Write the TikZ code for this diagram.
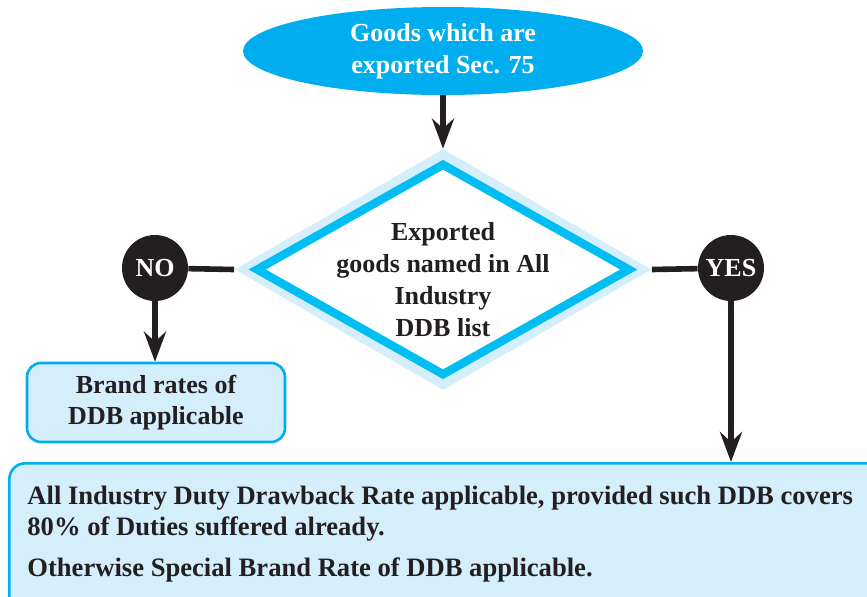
\documentclass[tikz,border=0pt]{standalone}
\usepackage{fontspec}
\setmainfont{Liberation Serif}
\usetikzlibrary{arrows.meta,positioning,shapes.geometric}
\definecolor{ddbCyan}{HTML}{00AEEF}
\definecolor{ddbAqua}{HTML}{00BEF2}
\definecolor{ddbSky}{HTML}{D5EEFB}
\definecolor{ddbInk}{HTML}{231F20}

\begin{document}
\begin{tikzpicture}[x=0.5pt,y=-0.5pt,font=\bfseries\fontsize{13}{16}\selectfont,
    flowline/.style={draw=ddbInk,line width=2.8pt},
    flowarrow/.style={flowline,-{Stealth[length=15pt,width=11pt,inset=5pt]}},
    answer/.style={circle,fill=ddbInk,text=white,minimum size=33pt,inner sep=0pt},
    skybox/.style={draw=ddbCyan,fill=ddbSky,line width=1.3pt,rounded corners=7pt,
                   text=ddbInk}]
  \useasboundingbox (0,0) rectangle (867,596);
  \clip (0,0) rectangle (867,596);

  % start
  \node[ellipse,fill=ddbCyan,text=white,align=center,inner sep=0pt,
        minimum width=200pt,minimum height=44pt] (goods) at (443,51)
        {Goods which are\\exported Sec. 75};

  % decision
  \node[diamond,fill=ddbSky,inner sep=0pt,
        minimum width=208.5pt,minimum height=120.5pt] (ddbglow) at (443,269.5) {};
  \node[diamond,draw=ddbAqua,fill=white,line width=4.2pt,inner sep=0pt,
        minimum width=187.5pt,minimum height=106.5pt] (ddb) at (ddbglow) {};
  \node[text=ddbInk,align=center] (ddbtext) at (443,280)
        {Exported\\goods named in All\\Industry\\DDB list};

  \node[answer] (no) at (155,268) {NO};
  \node[answer] (yes) at (731,268) {YES};

  % outcomes
  \node[skybox,align=center,minimum width=129pt,minimum height=39.5pt,
        font=\bfseries\fontsize{13}{15.5}\selectfont] (brand)
        at (156,402.5) {Brand rates of\\DDB applicable};
  \node[skybox,rounded corners=8pt,anchor=north west,minimum width=440pt,
        minimum height=75pt] (allind) at (8,462) {};
  \node[anchor=north west,inner sep=0pt,align=left,text=ddbInk,
        font=\bfseries\fontsize{13.3}{15.5}\selectfont] (ruletext) at (27,486)
        {All Industry Duty Drawback Rate applicable, provided such DDB covers\\
         80\% of Duties suffered already.\\[5pt]
         Otherwise Special Brand Rate of DDB applicable.};

  \draw[flowarrow] (goods.south) -- (ddbglow.north);
  \draw[flowline] (no) -- (ddbglow.west);
  \draw[flowline] (yes) -- (ddbglow.east);
  \draw[flowarrow] (no.south) -- (no.south |- brand.north);
  \draw[flowarrow] (yes.south) -- (yes.south |- allind.north);
\end{tikzpicture}
\end{document}
